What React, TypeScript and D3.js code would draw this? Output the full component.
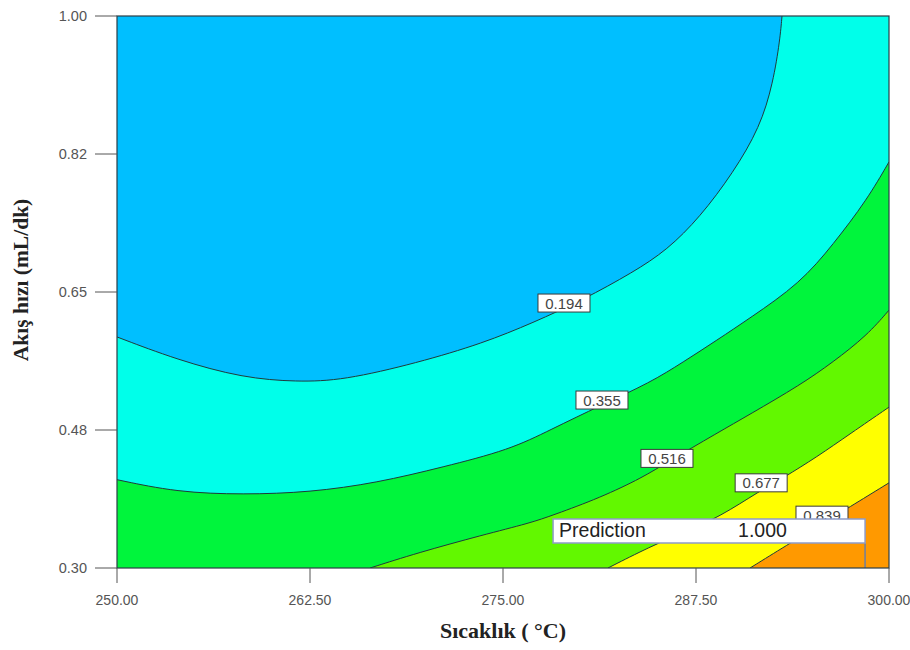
import React from "react";
import * as d3 from "d3";

// Axis ranges and ticks
const xDomain: [number, number] = [250, 300];
const yDomain: [number, number] = [0.3, 1.0];
const xTicks = [250, 262.5, 275, 287.5, 300];
const xTickLabels = ["250.00", "262.50", "275.00", "287.50", "300.00"];
const yTicks = [0.3, 0.475, 0.65, 0.825, 1.0];
const yTickLabels = ["0.30", "0.48", "0.65", "0.82", "1.00"];

// Contour levels of the response and the fill colour of each band (low -> high)
const levels = [0.194, 0.355, 0.516, 0.677, 0.839];
const levelLabels = ["0.194", "0.355", "0.516", "0.677", "0.839"];
const bandColors = ["#00bfff", "#00ffea", "#00f53c", "#62f800", "#ffff00", "#ff9900"];

// Contour lines: [Sıcaklık, Akış hızı]
const contour0194: [number, number][] = [
  [250, 0.593], [253.89, 0.564], [258.16, 0.541], [261.66, 0.536], [264.64, 0.538],
  [269.43, 0.56], [273.7, 0.585], [276.94, 0.611], [280.18, 0.64], [283.42, 0.675],
  [285.62, 0.703], [287.76, 0.745], [289.9, 0.801], [291.65, 0.859], [292.49, 0.915],
  [292.94, 0.97], [293.07, 1.0],
];
const contour0355: [number, number][] = [
  [250, 0.412], [253.89, 0.396], [258.16, 0.393], [262.5, 0.396], [266.84, 0.408],
  [271.11, 0.428], [275.45, 0.45], [278.04, 0.475], [281.41, 0.507], [284.52, 0.535],
  [286.66, 0.561], [288.86, 0.589], [291.0, 0.617], [294.24, 0.661], [296.37, 0.71],
  [298.58, 0.767], [300, 0.815],
];
const contour0516: [number, number][] = [
  [266.39, 0.3], [269.43, 0.319], [273.7, 0.342], [276.75, 0.357], [278.24, 0.367],
  [281.28, 0.389], [284.07, 0.415], [285.62, 0.434], [288.86, 0.471], [291.0, 0.495],
  [294.24, 0.532], [296.37, 0.561], [298.58, 0.595], [300, 0.627],
];
const contour0677: [number, number][] = [
  [281.8, 0.3], [284.52, 0.327], [286.79, 0.346], [289.05, 0.365], [291.65, 0.398],
  [293.13, 0.414], [295.34, 0.441], [297.47, 0.47], [300, 0.504],
];
const contour0839: [number, number][] = [
  [291.0, 0.3], [293.39, 0.329], [295.66, 0.356], [297.34, 0.376], [300, 0.408],
];
const contours = [contour0194, contour0355, contour0516, contour0677, contour0839];

// Where each level label sits on its line
const labelAnchors: [number, number][] = [
  [278.95, 0.636], [281.41, 0.513], [285.62, 0.439], [291.72, 0.408], [295.66, 0.367],
];

// Prediction flag
const predictionPoint: [number, number] = [298.45, 0.3];
const predictionValue = 1.0;

const W = 910;
const H = 650;
const M = { left: 117, right: 889, top: 16, bottom: 568 };

export default function App() {
  const x = d3.scaleLinear().domain(xDomain).range([M.left, M.right]);
  const y = d3.scaleLinear().domain(yDomain).range([M.bottom, M.top]);

  const lineGen = d3
    .line<[number, number]>()
    .x((d) => x(d[0]))
    .y((d) => y(d[1]))
    .curve(d3.curveBasis);

  // Region above a level: the line, then the plot edge clockwise back to the start
  const bandPath = (pts: [number, number][]) => {
    const start = pts[0];
    const end = pts[pts.length - 1];
    const corners: [number, number][] = [];
    if (end[1] >= yDomain[1]) corners.push([xDomain[1], yDomain[1]]);
    corners.push([xDomain[1], yDomain[0]]);
    if (start[0] <= xDomain[0]) corners.push([xDomain[0], yDomain[0]]);
    return (
      lineGen(pts) +
      corners.map((c) => `L${x(c[0])},${y(c[1])}`).join("") +
      "Z"
    );
  };

  const px = x(predictionPoint[0]);
  const py = y(predictionPoint[1]);
  const flag = { w: 312, h: 24, lift: 25 };

  return (
    <svg
      width={W}
      height={H}
      style={{ position: "absolute", left: 0, top: 0, background: "#fff" }}
    >
      <defs>
        <clipPath id="plot-clip">
          <rect x={M.left} y={M.top} width={M.right - M.left} height={M.bottom - M.top} />
        </clipPath>
      </defs>

      <g clipPath="url(#plot-clip)">
        <rect
          x={M.left}
          y={M.top}
          width={M.right - M.left}
          height={M.bottom - M.top}
          fill={bandColors[0]}
        />
        {contours.map((pts, i) => (
          <path key={"band" + i} d={bandPath(pts)} fill={bandColors[i + 1]} />
        ))}
        {contours.map((pts, i) => (
          <path
            key={"line" + i}
            d={lineGen(pts) || ""}
            fill="none"
            stroke="#1f3b3b"
            strokeWidth={1}
          />
        ))}
      </g>

      {/* level labels */}
      {levels.map((lv, i) => {
        const cx = x(labelAnchors[i][0]);
        const cy = y(labelAnchors[i][1]);
        return (
          <g key={"lbl" + lv}>
            <rect
              x={cx - 26}
              y={cy - 9}
              width={52}
              height={18}
              fill="#fff"
              stroke="#3a3a3a"
              strokeWidth={1}
            />
            <text
              x={cx}
              y={cy + 5.5}
              textAnchor="middle"
              fontFamily="'Liberation Sans', Arial, sans-serif"
              fontSize={15}
              fill="#444"
            >
              {levelLabels[i]}
            </text>
          </g>
        );
      })}

      {/* prediction flag */}
      <g>
        <line x1={px} x2={px} y1={py} y2={py - flag.lift} stroke="#6f7f9f" strokeWidth={1.5} />
        <rect
          x={px - flag.w}
          y={py - flag.lift - flag.h}
          width={flag.w}
          height={flag.h}
          fill="#fff"
          stroke="#8e9cc8"
          strokeWidth={1.5}
        />
        <text
          x={px - flag.w + 6}
          y={py - flag.lift - 6}
          fontFamily="'Liberation Sans', Arial, sans-serif"
          fontSize={19.5}
          fill="#222"
        >
          Prediction
        </text>
        <text
          x={px - flag.w + 185}
          y={py - flag.lift - 6}
          fontFamily="'Liberation Sans', Arial, sans-serif"
          fontSize={19.5}
          fill="#222"
        >
          {predictionValue.toFixed(3)}
        </text>
      </g>

      {/* frame */}
      <rect
        x={M.left}
        y={M.top}
        width={M.right - M.left}
        height={M.bottom - M.top}
        fill="none"
        stroke="#2c3e46"
        strokeWidth={1.2}
      />

      {/* x axis */}
      {xTicks.map((t, i) => (
        <g key={"xt" + t}>
          <line x1={x(t)} x2={x(t)} y1={M.bottom} y2={M.bottom + 15} stroke="#555" strokeWidth={1} />
          <text
            x={x(t)}
            y={M.bottom + 37}
            textAnchor="middle"
            fontFamily="'Liberation Sans', Arial, sans-serif"
            fontSize={14}
            fill="#555"
          >
            {xTickLabels[i]}
          </text>
        </g>
      ))}

      {/* y axis */}
      {yTicks.map((t, i) => (
        <g key={"yt" + t}>
          <line x1={M.left - 22} x2={M.left} y1={y(t)} y2={y(t)} stroke="#555" strokeWidth={1} />
          <text
            x={M.left - 30}
            y={y(t) + 5}
            textAnchor="end"
            fontFamily="'Liberation Sans', Arial, sans-serif"
            fontSize={14.5}
            fill="#555"
          >
            {yTickLabels[i]}
          </text>
        </g>
      ))}

      {/* axis titles */}
      <text
        x={(M.left + M.right) / 2}
        y={638}
        textAnchor="middle"
        fontFamily="'Liberation Serif', 'Times New Roman', serif"
        fontWeight="bold"
        fontSize={22}
        fill="#222"
      >
        Sıcaklık ( °C)
      </text>
      <text
        transform={`translate(28, ${(M.top + M.bottom) / 2 - 12}) rotate(-90)`}
        textAnchor="middle"
        fontFamily="'Liberation Serif', 'Times New Roman', serif"
        fontWeight="bold"
        fontSize={21.5}
        fill="#222"
      >
        Akış hızı (mL/dk)
      </text>
    </svg>
  );
}
